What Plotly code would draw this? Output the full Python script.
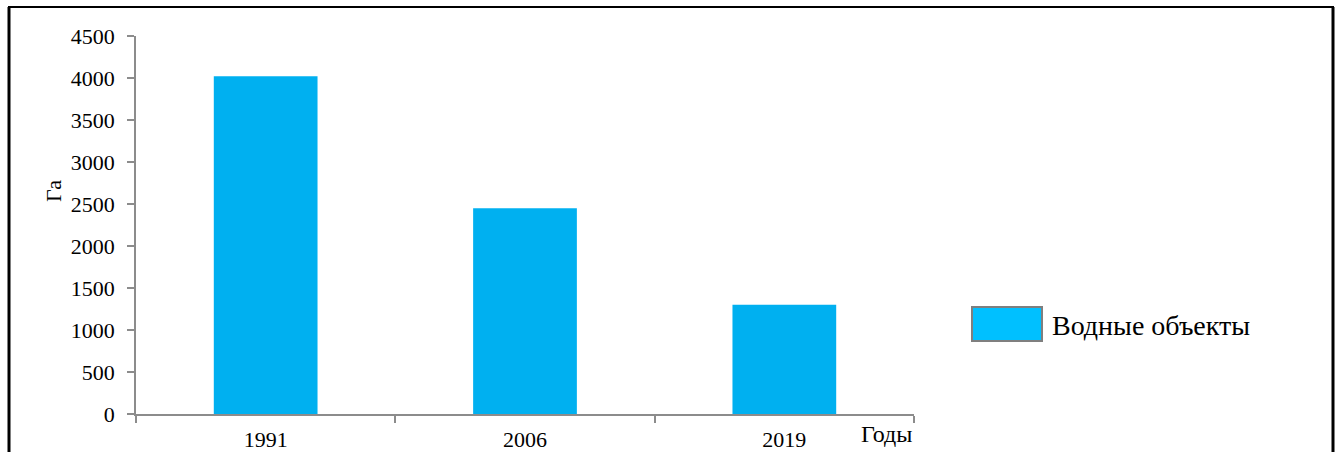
import plotly.graph_objects as go

years = ["1991", "2006", "2019"]
area_ha = [4020, 2450, 1300]
series_name = "Водные объекты"
y_title = "Га"
x_title = "Годы"

W, H = 1340, 452
L, R, T, B = 136, 914, 36, 414  # plot area in pixels


def px(x):
    return (x - L) / (R - L)


def py(y):
    return (B - y) / (B - T)


fig = go.Figure(
    go.Bar(x=years, y=area_ha, marker=dict(color="#00B0F0", line=dict(width=0)),
           width=0.4, name=series_name, showlegend=False)
)

font = "Liberation Serif"
axis_col = "#8c8c8c"

fig.update_layout(
    width=W, height=H,
    margin=dict(l=L, r=W - R, t=T, b=H - B, autoexpand=False),
    paper_bgcolor="white", plot_bgcolor="white",
    font=dict(family=font, color="black", size=22),
    bargap=0.6,
)
fig.update_xaxes(
    type="category", tickson="boundaries", ticks="outside", ticklen=7,
    tickcolor=axis_col, tickwidth=1.5, showline=True, linecolor=axis_col,
    linewidth=1.5, showgrid=False, tickfont=dict(size=22, family=font),
    range=[-0.5, 2.5], fixedrange=True, automargin=False, ticklabelstandoff=5,
)
fig.update_yaxes(
    range=[0, 4500], dtick=500, ticks="outside", ticklen=7, tickcolor=axis_col,
    tickwidth=1.5, showline=True, linecolor=axis_col, linewidth=1.5,
    showgrid=False, zeroline=False, tickfont=dict(size=22, family=font),
    ticklabelstandoff=8, automargin=False,
)

shapes = [
    # outer frame
    dict(type="line", xref="paper", yref="paper", x0=px(9), x1=px(9), y0=py(7), y1=py(460),
         line=dict(color="black", width=3)),
    dict(type="line", xref="paper", yref="paper", x0=px(1333), x1=px(1333), y0=py(7), y1=py(460),
         line=dict(color="black", width=3)),
    dict(type="line", xref="paper", yref="paper", x0=px(8), x1=px(1334), y0=py(7), y1=py(7),
         line=dict(color="black", width=2)),
    # legend swatch
    dict(type="rect", xref="paper", yref="paper", x0=px(972), x1=px(1042), y0=py(341), y1=py(307),
         fillcolor="#00C0FF", line=dict(color="#7f7f7f", width=2)),
]
fig.update_layout(shapes=shapes)

fig.add_annotation(xref="paper", yref="paper", x=px(1050), y=py(325), text=series_name,
                   showarrow=False, xanchor="left", yanchor="middle",
                   font=dict(size=28, family=font))
fig.add_annotation(xref="paper", yref="paper", x=px(54), y=py(191), text=y_title,
                   showarrow=False, textangle=-90, xanchor="center", yanchor="middle",
                   font=dict(size=22, family=font))
fig.add_annotation(xref="paper", yref="paper", x=px(886), y=py(434), text=x_title,
                   showarrow=False, xanchor="center", yanchor="middle",
                   font=dict(size=24, family=font))

fig.write_html("out.html")
